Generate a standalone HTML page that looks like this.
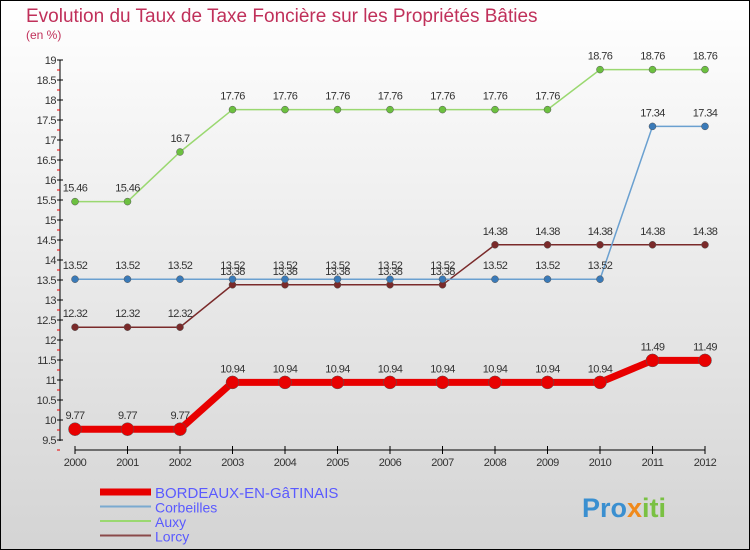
<!DOCTYPE html>
<html><head><meta charset="utf-8"><style>
body{margin:0}
svg{display:block;font-family:"Liberation Sans",sans-serif}
</style></head><body>
<svg width="750" height="550" viewBox="0 0 750 550">
<defs><linearGradient id="bg" x1="0" y1="0" x2="0" y2="1"><stop offset="0" stop-color="#ffffff"/><stop offset="1" stop-color="#d4d4d4"/></linearGradient></defs>
<rect x="0.5" y="0.5" width="749" height="549" fill="url(#bg)" stroke="#000"/>
<text x="26" y="22" font-size="19" fill="#c0305a">Evolution du Taux de Taxe Foncière sur les Propriétés Bâties</text>
<text x="26" y="39" font-size="12" fill="#c0305a">(en %)</text>
<g id="axes"></g>
<g id="series"></g>
<g id="legend"></g>
<text x="582" y="517" font-size="27" font-weight="bold" fill="#3a8fd0">Pro<tspan fill="#f08a1c">x</tspan><tspan fill="#7ac143">iti</tspan></text>
</svg>
<script>
const years=[2000,2001,2002,2003,2004,2005,2006,2007,2008,2009,2010,2011,2012];
const yTicks=[9.5,10,10.5,11,11.5,12,12.5,13,13.5,14,14.5,15,15.5,16,16.5,17,17.5,18,18.5,19];
const seriesNames=["BORDEAUX-EN-GâTINAIS","Corbeilles","Auxy","Lorcy"];
const bordeaux=[9.77,9.77,9.77,10.94,10.94,10.94,10.94,10.94,10.94,10.94,10.94,11.49,11.49];
const corbeilles=[13.52,13.52,13.52,13.52,13.52,13.52,13.52,13.52,13.52,13.52,13.52,17.34,17.34];
const auxy=[15.46,15.46,16.7,17.76,17.76,17.76,17.76,17.76,17.76,17.76,18.76,18.76,18.76];
const lorcy=[12.32,12.32,12.32,13.38,13.38,13.38,13.38,13.38,14.38,14.38,14.38,14.38,14.38];
const NS="http://www.w3.org/2000/svg";
function X(i){return 75+i*52.5;}
function Y(v){return 440-(v-9.5)*40;}
function mk(tag,attrs,parent,text){const e=document.createElementNS(NS,tag);for(const k in attrs)e.setAttribute(k,attrs[k]);if(text!==undefined)e.textContent=text;parent.appendChild(e);return e;}
const ax=document.getElementById('axes');
let e=mk('line',{x1:60,y1:60,x2:60,y2:441,stroke:'#000'},ax);


yTicks.forEach(v=>{
  mk('line',{x1:57,x2:63,y1:Y(v),y2:Y(v),stroke:'#000'},ax);
  mk('line',{x1:57,x2:60,y1:Y(v)+10,y2:Y(v)+10,stroke:'#e00'},ax);
  const t=mk('text',{x:56,y:Y(v)+4,'text-anchor':'end','font-size':11,fill:'#333','letter-spacing':'-0.5'},ax,String(v));
  
  
});
e=mk('line',{x1:75,y1:450,x2:705,y2:450,stroke:'#000'},ax);


years.forEach((y,i)=>{
  mk('line',{x1:X(i),x2:X(i),y1:446,y2:454,stroke:'#000'},ax);
  const t=mk('text',{x:X(i),y:466,'text-anchor':'middle','font-size':11,fill:'#333','letter-spacing':'-0.5'},ax,String(y));
  
  
});
const sg=document.getElementById('series');
const defs=[
 {d:lorcy,c:'#7a2a2a',w:1.5,r:3.5,n:'lorcy'},
 {d:corbeilles,c:'#6aa0d0',w:1.5,r:3.5,n:'corbeilles',dot:'#3a7ab8'},
 {d:auxy,c:'#9ad870',w:1.5,r:3.5,n:'auxy',dot:'#6cc040'},
 {d:bordeaux,c:'#e80000',w:7,r:6.5,n:'bordeaux'}
];
defs.forEach(s=>{
  const g=mk('g',{},sg);
  
  
  const p=mk('polyline',{points:s.d.map((v,i)=>X(i)+','+Y(v)).join(' '),fill:'none',stroke:s.c,'stroke-width':s.w},g);
  
  
  s.d.forEach((v,i)=>{
    const c=mk('circle',{cx:X(i),cy:Y(v),r:s.r,fill:s.dot||s.c,stroke:'#555','stroke-width':0.5},g);
    
    
    const t=mk('text',{x:X(i),y:Y(v)-10,'text-anchor':'middle','font-size':11,fill:'#333','letter-spacing':'-0.6'},g,String(v));
    
    
  });
});
const lg=document.getElementById('legend');
const lc=[['#e80000',7],['#7aaad0',2],['#9ad870',2],['#8a4a4a',2]];
seriesNames.forEach((n,i)=>{
  const y=492+i*14.5;
  const g=mk('g',{},lg);
  
  
  mk('line',{x1:100,x2:151,y1:y,y2:y,stroke:lc[i][0],'stroke-width':lc[i][1]},g);
  mk('text',{x:155,y:y+6,'font-size':i==0?15:14,fill:'#5a5aff'},g,n);
});
</script>
</body></html>
